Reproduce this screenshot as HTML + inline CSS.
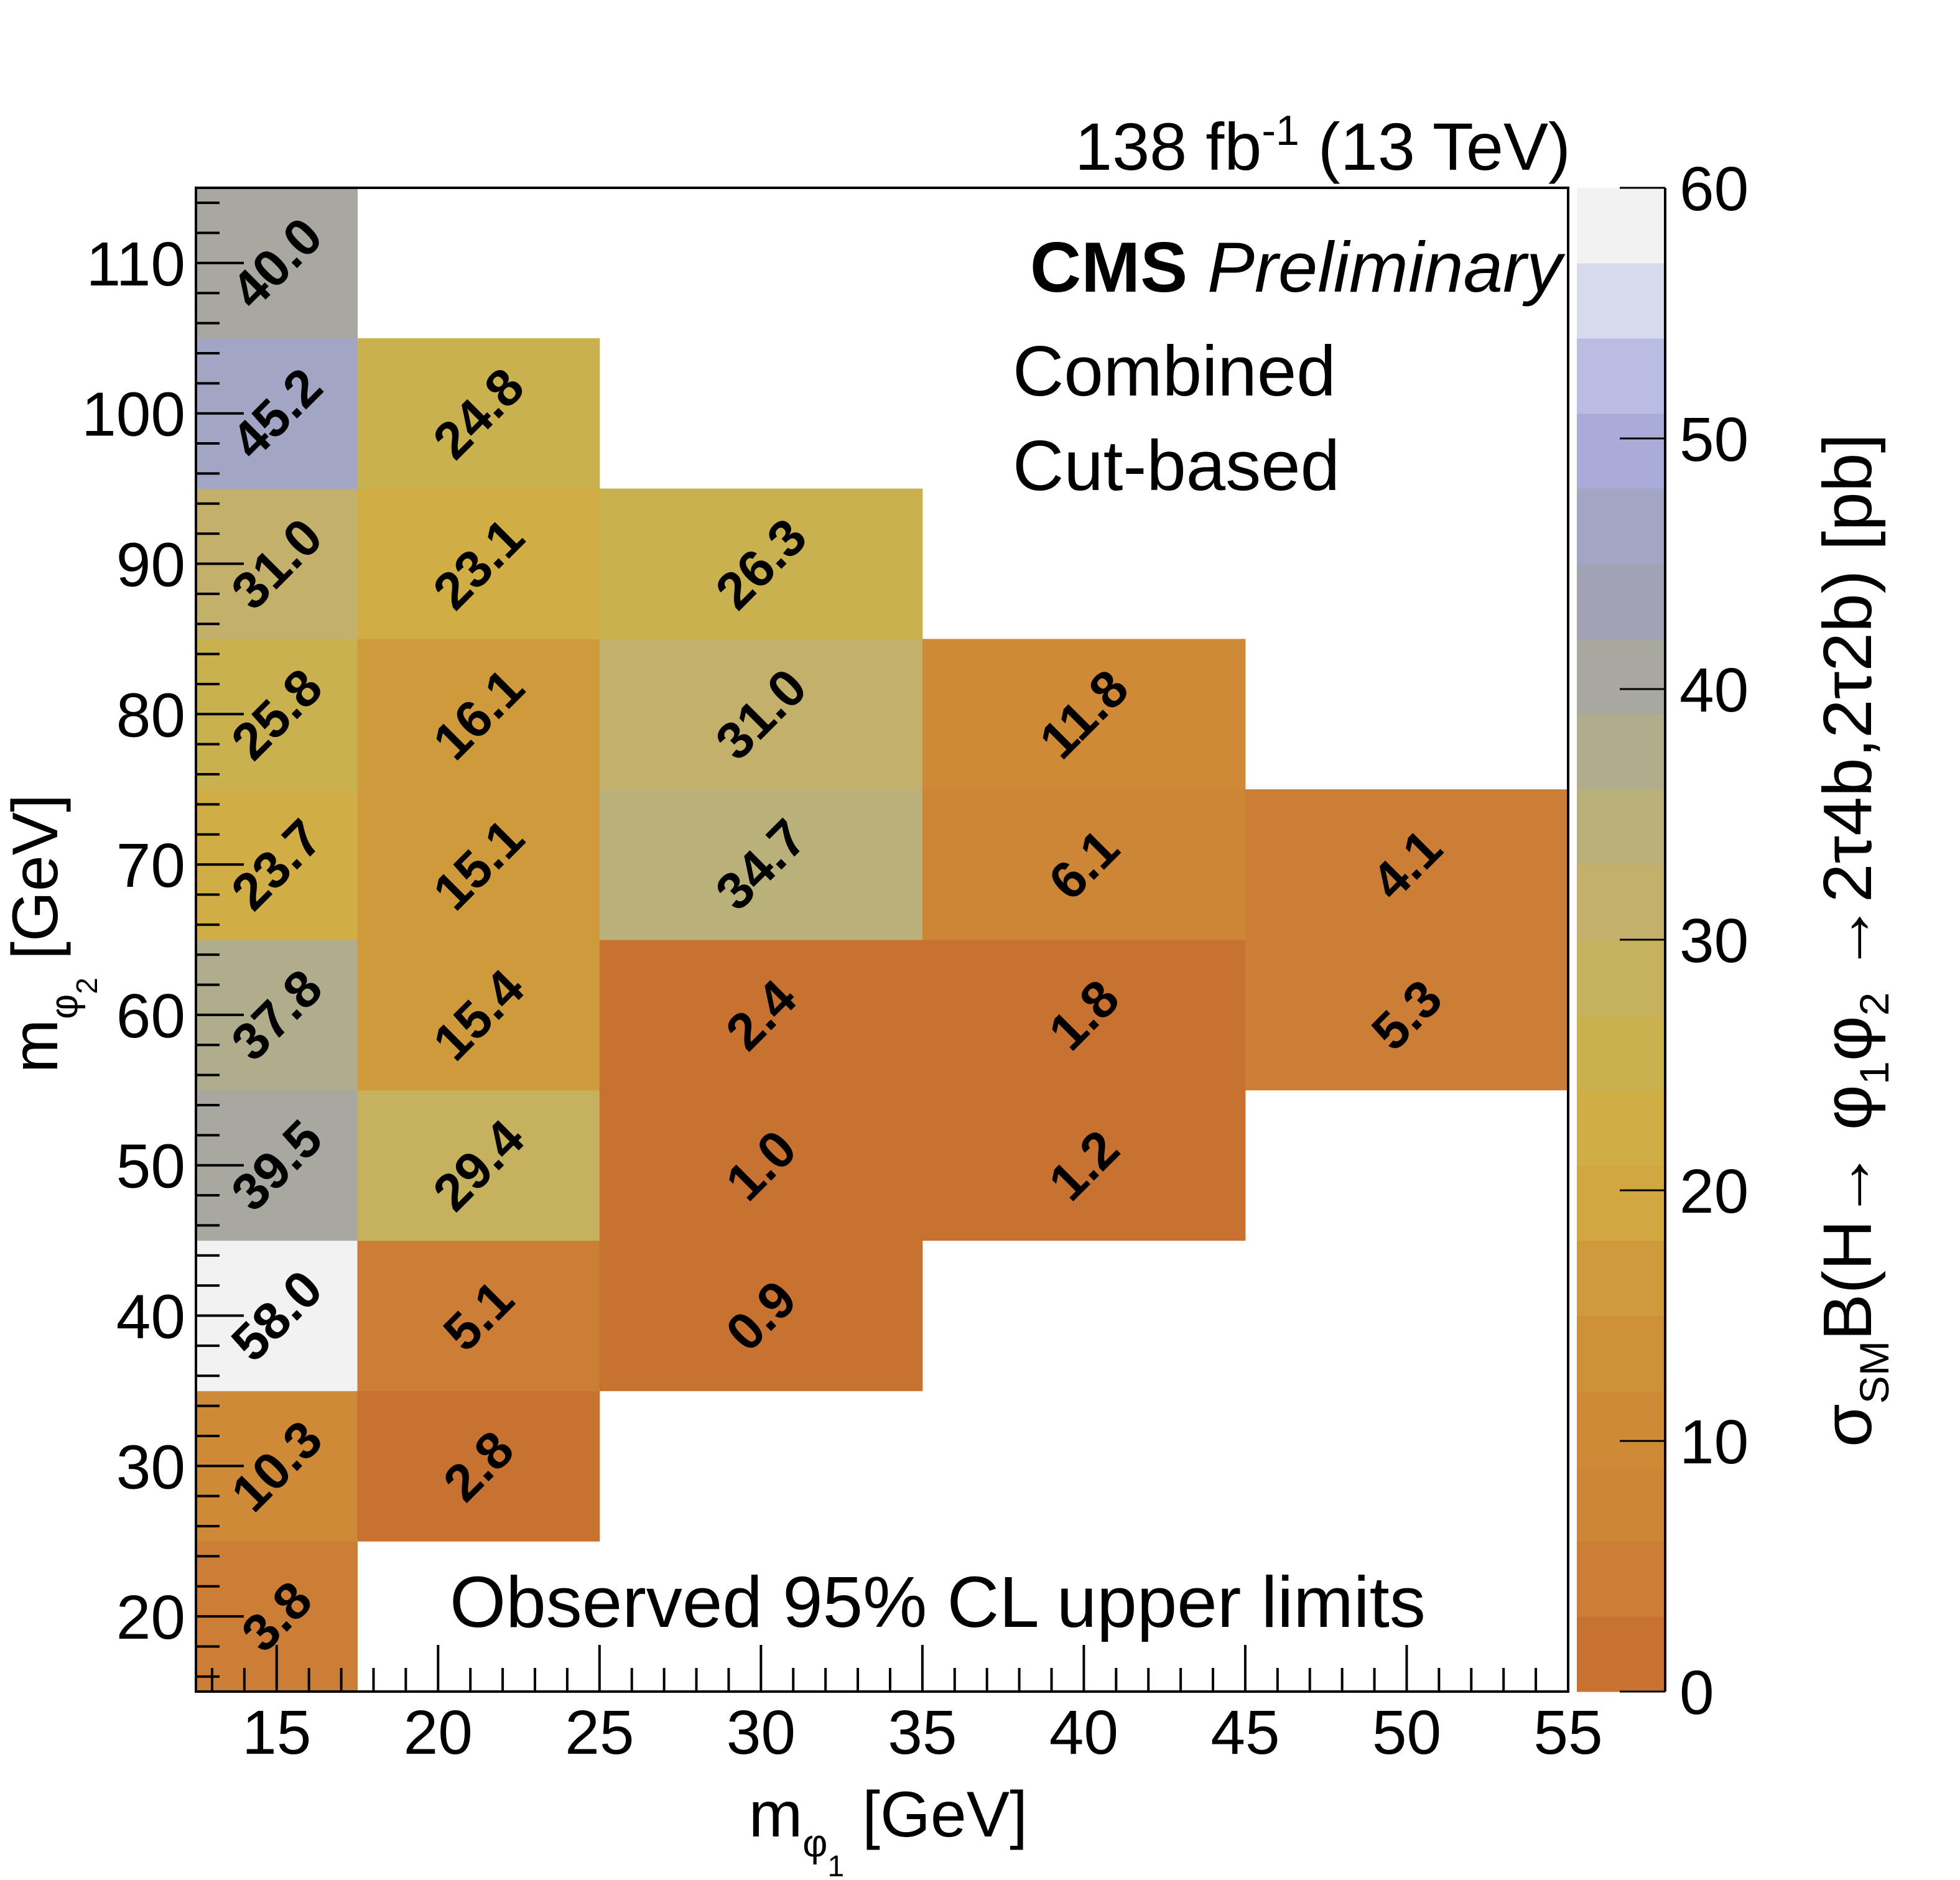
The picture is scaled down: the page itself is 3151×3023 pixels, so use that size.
<!DOCTYPE html>
<html><head><meta charset="utf-8"><style>
html,body{margin:0;padding:0;background:#fff}
svg{display:block}
text{font-family:"Liberation Sans",sans-serif}
</style></head><body>
<svg id="c" width="3151" height="3023" viewBox="0 0 3151 3023" xmlns="http://www.w3.org/2000/svg">
<g id="cells"></g>
<g id="labels"></g>
<g id="axes"></g>
<g id="pal"></g>
<text x="2525" y="273" font-size="108" text-anchor="end">138 fb<tspan dy="-40" font-size="68">-1</tspan><tspan dy="40"> (13 TeV)</tspan></text>
<text x="2511" y="469" font-size="114" text-anchor="end"><tspan font-weight="bold">CMS</tspan> <tspan font-style="italic">Preliminary</tspan></text>
<text x="1628" y="636" font-size="114">Combined</text>
<text x="1628" y="788" font-size="114">Cut-based</text>
<text x="723" y="2616" font-size="116">Observed 95% CL upper limits</text>
<text x="1652" y="2953" font-size="104" text-anchor="end">m<tspan dy="32" font-size="62">φ</tspan><tspan dy="32" font-size="48">1</tspan><tspan dy="-64"> [GeV]</tspan></text>
<text transform="translate(92,1277) rotate(-90)" font-size="104" text-anchor="end">m<tspan dy="32" font-size="62">φ</tspan><tspan dy="32" font-size="48">2</tspan><tspan dy="-64"> [GeV]</tspan></text>
<text transform="translate(3008,2327) rotate(-90)" font-size="110" textLength="1630" lengthAdjust="spacingAndGlyphs">σ<tspan dy="28" font-size="66">SM</tspan><tspan dy="-28">B(H→ φ</tspan><tspan dy="28" font-size="66">1</tspan><tspan dy="-28">φ</tspan><tspan dy="28" font-size="66">2</tspan><tspan dy="-28"> →2τ4b,2τ2b) [pb]</tspan></text>
</svg>
<script>
const m1Centers=[15,20,30,40,50];
const m1Edges=[12.5,17.5,25,35,45,55];
const m2Values=[20,30,40,50,60,70,80,90,100,110];
const limitsM15=[3.8,10.3,58.0,39.5,37.8,23.7,25.8,31.0,45.2,40.0];
const limitsM20=[null,2.8,5.1,29.4,15.4,15.1,16.1,23.1,24.8,null];
const limitsM30=[null,null,0.9,1.0,2.4,34.7,31.0,26.3,null,null];
const limitsM40=[null,null,null,1.2,1.8,6.1,11.8,null,null,null];
const limitsM50=[null,null,null,null,5.3,4.1,null,null,null,null];
const series=[limitsM15,limitsM20,limitsM30,limitsM40,limitsM50];
const xTicks=[15,20,25,30,35,40,45,50,55];
const yTicks=[20,30,40,50,60,70,80,90,100,110];
const zTicks=[0,10,20,30,40,50,60];
const palette=["#c87232","#cc7d36","#cd8536","#ce8a36","#ce9138","#cf9a3b","#d2a740","#d1ad45","#cab150","#c6b25e","#c2b06b","#bab17a","#b0ad8c","#a8a7a0","#a1a3b5","#a2a6c4","#a9acd8","#b9bde3","#d6daec","#f2f2f2"];
const NS="http://www.w3.org/2000/svg";
const L=315,R=2521,T=302,B=2720,X0=12.5,X1=55,Y0=15,Y1=115,Z0=0,Z1=60;
const PL=2535,PR=2677;
const sx=v=>L+(v-X0)/(X1-X0)*(R-L);
const sy=v=>B-(v-Y0)/(Y1-Y0)*(B-T);
const sz=v=>B-(v-Z0)/(Z1-Z0)*(B-T);
const col=v=>palette[Math.max(0,Math.min(palette.length-1,Math.floor((v-Z0)/(Z1-Z0)*palette.length)))];
function mk(tag,attrs,parent,txt){const e=document.createElementNS(NS,tag);for(const k in attrs)e.setAttribute(k,attrs[k]);if(txt!==undefined)e.textContent=txt;parent.appendChild(e);return e;}
const gc=document.getElementById('cells'),gl=document.getElementById('labels'),ga=document.getElementById('axes'),gp=document.getElementById('pal');
series.forEach((s,i)=>{s.forEach((v,j)=>{if(v===null)return;
 const x0=sx(m1Edges[i]),x1=sx(m1Edges[i+1]),y0=sy(m2Values[j]+5),y1=sy(m2Values[j]-5);
 const r=mk('rect',{x:x0,y:y0,width:x1-x0+0.5,height:y1-y0+0.5,fill:col(v)},gc);
 
 
 const cx=(x0+x1)/2,cy=(y0+y1)/2;
 const t=mk('text',{x:cx,y:cy,'font-size':84,'font-weight':'bold','text-anchor':'middle','dominant-baseline':'central',transform:`rotate(-45 ${cx} ${cy})`},gl,v.toFixed(1));
 
 
});});
const fr=mk('rect',{x:L,y:T,width:R-L,height:B-T,fill:'none',stroke:'#000','stroke-width':4},ga);


for(let v=13;v<=55;v++){const big=v%5===0;mk('line',{x1:sx(v),x2:sx(v),y1:B,y2:B-(big?75:38),stroke:'#000','stroke-width':4},ga);}
xTicks.forEach(v=>{const t=mk('text',{x:sx(v),y:2820,'font-size':100,'text-anchor':'middle'},ga,v);
 
 });
for(let v=16;v<=114;v+=2){const big=v%10===0;mk('line',{x1:L,x2:L+(big?77:38),y1:sy(v),y2:sy(v),stroke:'#000','stroke-width':4},ga);}
yTicks.forEach(v=>{const t=mk('text',{x:298,y:sy(v)+36,'font-size':100,'text-anchor':'end'},ga,v);
 
 });
palette.forEach((c,i)=>{const a=Z0+i*(Z1-Z0)/palette.length,b=Z0+(i+1)*(Z1-Z0)/palette.length;
 const r=mk('rect',{x:PL,y:sz(b),width:PR-PL,height:sz(a)-sz(b)+0.5,fill:c},gp);
 
 });
mk('line',{x1:PR,x2:PR,y1:T,y2:B,stroke:'#000','stroke-width':4},gp);
zTicks.forEach(v=>{mk('line',{x1:PR-73,x2:PR,y1:sz(v),y2:sz(v),stroke:'#000','stroke-width':3},gp);
 const t=mk('text',{x:2700,y:sz(v)+36,'font-size':100},gp,v);
 
 });
</script>
</body></html>
